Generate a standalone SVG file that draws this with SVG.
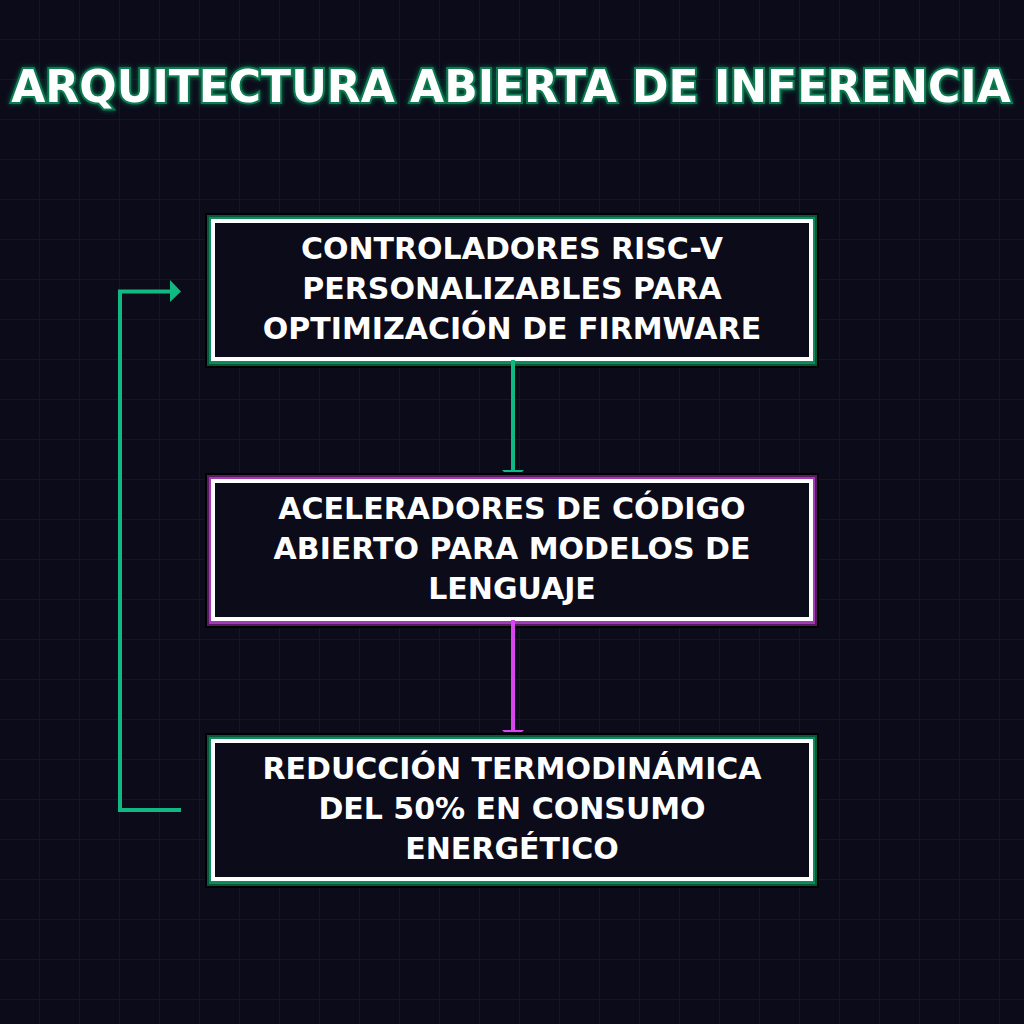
<svg xmlns="http://www.w3.org/2000/svg" width="1024" height="1024" viewBox="0 0 1024 1024">
  <defs>
    <pattern id="grid" width="40" height="40" patternUnits="userSpaceOnUse">
      <path d="M40 0V40M0 40H40" fill="none" stroke="#181828" stroke-width="1.5"/>
    </pattern>
    <filter id="glow" x="-10%" y="-50%" width="120%" height="200%">
      <feGaussianBlur in="SourceAlpha" stdDeviation="2.5" result="b"/>
      <feFlood flood-color="#0a6b45"/>
      <feComposite in2="b" operator="in" result="g"/>
      <feMerge><feMergeNode in="g"/><feMergeNode in="SourceGraphic"/></feMerge>
    </filter>
    <style>
      .title{font-family:"DejaVu Sans",sans-serif;font-weight:bold;font-size:44px;fill:#fff;stroke:#0d7a50;stroke-width:4;paint-order:stroke;text-anchor:middle}
      .lbl{font-family:"DejaVu Sans",sans-serif;font-weight:bold;font-size:30px;fill:#fff;text-anchor:middle}
      .inner{fill:#0b0b1a;stroke:#fff;stroke-width:4}
      .green{stroke:#10b981}
      .pink{stroke:#d946ef}
    </style>
  </defs>
  <rect width="1024" height="1024" fill="#0b0b1a"/>
  <rect width="1024" height="1024" fill="url(#grid)"/>

  <text class="title" x="511" y="102" filter="url(#glow)">ARQUITECTURA ABIERTA DE INFERENCIA</text>

  <g id="node1">
    <rect x="205" y="213" width="614" height="155" fill="#000"/>
    <rect x="207" y="215" width="610" height="151" fill="#07583a"/>
    <rect x="209" y="217" width="606" height="147" fill="#0f8a5c"/>
    <rect class="inner" x="213" y="221" width="598" height="138"/>
    <text class="lbl" x="512" y="259">CONTROLADORES RISC-V</text>
    <text class="lbl" x="512" y="299">PERSONALIZABLES PARA</text>
    <text class="lbl" x="512" y="339">OPTIMIZACIÓN DE FIRMWARE</text>
  </g>

  <g id="node2">
    <rect x="205" y="473" width="614" height="155" fill="#000"/>
    <rect x="207" y="475" width="610" height="151" fill="#5a1a63"/>
    <rect x="209" y="477" width="606" height="147" fill="#a23ab4"/>
    <rect class="inner" x="213" y="481" width="598" height="138"/>
    <text class="lbl" x="512" y="519">ACELERADORES DE CÓDIGO</text>
    <text class="lbl" x="512" y="559">ABIERTO PARA MODELOS DE</text>
    <text class="lbl" x="512" y="599">LENGUAJE</text>
  </g>

  <g id="node3">
    <rect x="205" y="733" width="614" height="155" fill="#000"/>
    <rect x="207" y="735" width="610" height="151" fill="#07583a"/>
    <rect x="209" y="737" width="606" height="147" fill="#0f8a5c"/>
    <rect class="inner" x="213" y="741" width="598" height="138"/>
    <text class="lbl" x="512" y="779">REDUCCIÓN TERMODINÁMICA</text>
    <text class="lbl" x="512" y="819">DEL 50% EN CONSUMO</text>
    <text class="lbl" x="512" y="859">ENERGÉTICO</text>
  </g>

  <g id="connectors" fill="none" stroke-width="4">
    <path class="green" d="M513 360V470"/>
    <path d="M502 470H524L522 472H504Z" fill="#10b981"/>
    <path class="pink" d="M513 620V730"/>
    <path d="M502 730H524L522 732H504Z" fill="#d946ef"/>
    <path class="green" d="M181 810H120V291.5H171"/>
    <path d="M170 280L181 291.5L170 302Z" fill="#10b981"/>
  </g>
</svg>
